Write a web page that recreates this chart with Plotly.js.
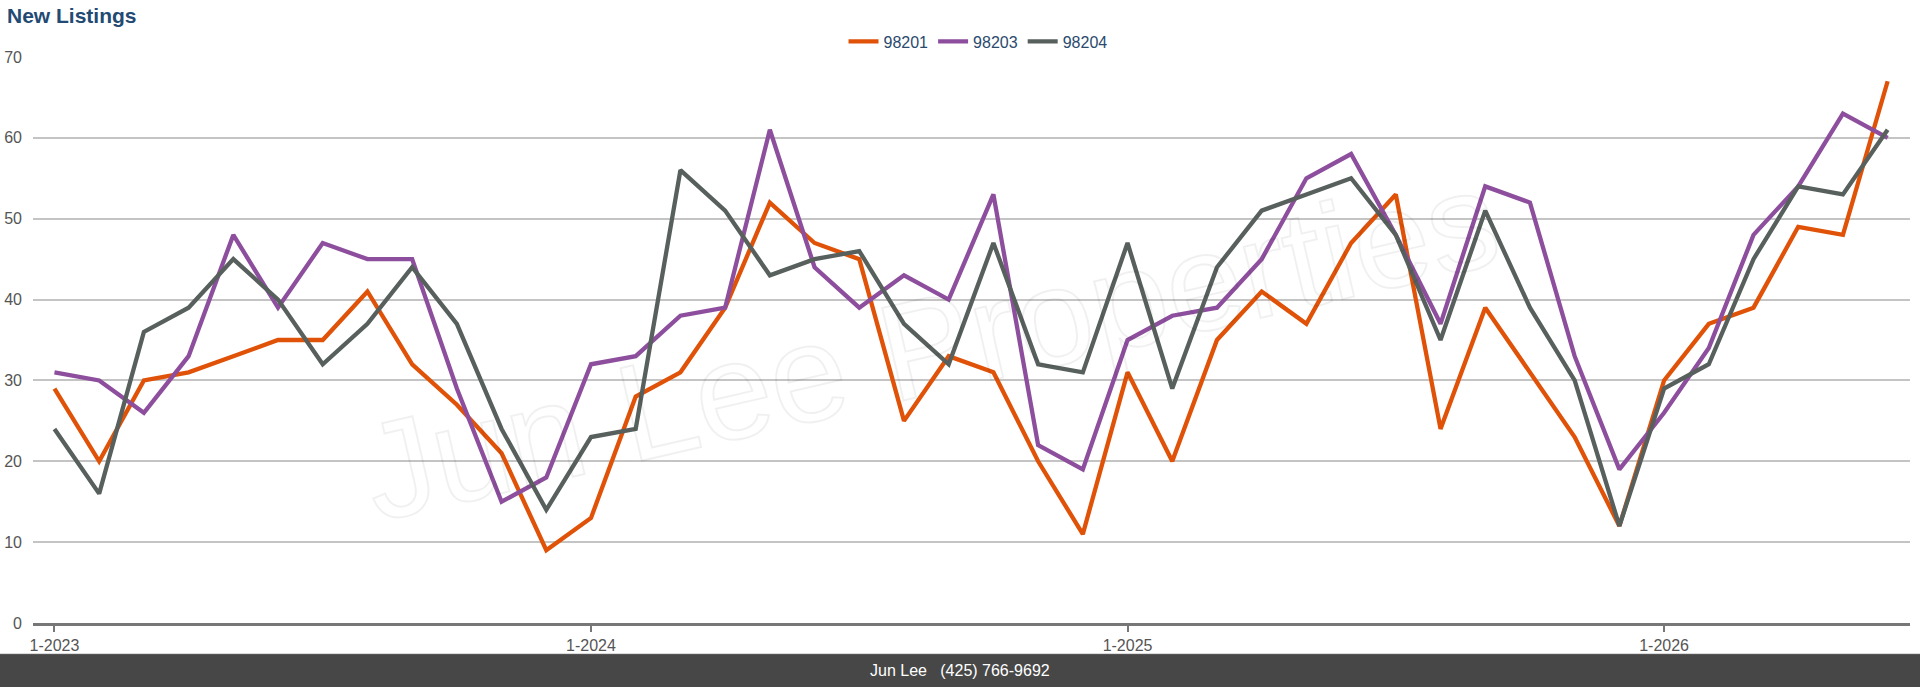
<!DOCTYPE html>
<html>
<head>
<meta charset="utf-8">
<script src="https://cdn.plot.ly/plotly-3.0.1.min.js"></script>
<style>
  html, body { margin: 0; padding: 0; background: #fff; }
  #chart { width: 1920px; height: 687px; }
</style>
</head>
<body>
<div id="chart"></div>
<script>
// Months Jan 2023 .. Jun 2026 (index 0..41)
const months = [
  "1-2023","2-2023","3-2023","4-2023","5-2023","6-2023","7-2023","8-2023","9-2023","10-2023","11-2023","12-2023",
  "1-2024","2-2024","3-2024","4-2024","5-2024","6-2024","7-2024","8-2024","9-2024","10-2024","11-2024","12-2024",
  "1-2025","2-2025","3-2025","4-2025","5-2025","6-2025","7-2025","8-2025","9-2025","10-2025","11-2025","12-2025",
  "1-2026","2-2026","3-2026","4-2026","5-2026","6-2026"
];
const tickLabels = ["1-2023", "1-2024", "1-2025", "1-2026"];

const zip98201 = [29,20,30,31,33,35,35,41,32,27,21,9,
                  13,28,31,39,52,47,45,25,33,31,20,11,
                  31,20,35,41,37,47,53,24,39,31,23,12,
                  30,37,39,49,48,67];
const zip98203 = [31,30,26,33,48,39,47,45,45,29,15,18,
                  32,33,38,39,61,44,39,43,40,53,22,19,
                  35,38,39,45,55,58,48,37,54,52,33,19,
                  26,34,48,54,63,60];
const zip98204 = [24,16,36,39,45,40,32,37,44,37,24,14,
                  23,24,56,51,43,45,46,37,32,47,32,31,
                  47,29,44,51,53,55,48,35,51,39,30,12,
                  29,32,45,54,53,61];

const xIdx = months.map((_, i) => i);
const tickVals = tickLabels.map(t => months.indexOf(t));

const font = "Liberation Sans, Arial, Helvetica, sans-serif";

function series(name, y, color) {
  return {
    type: "scatter", mode: "lines", name: name,
    x: xIdx, y: y, text: months,
    line: { color: color, width: 4.3, shape: "linear" },
    hoverinfo: "text+y+name"
  };
}

const data = [
  series("98201", zip98201, "#df5208"),
  series("98203", zip98203, "#8d4f9d"),
  series("98204", zip98204, "#57605d")
];

// plot area: left 33, right 1910, top 56.5, bottom 622.7
const L = 33, R = 10, T = 56.5, B = 64.3;
const PW = 1920 - L - R, PH = 687 - T - B;
const px = v => (v - L) / PW;          // page x -> paper x
const py = v => (687 - B - v) / PH;    // page y -> paper y

const layout = {
  width: 1920, height: 687,
  margin: { l: L, r: R, t: T, b: B, pad: 0 },
  paper_bgcolor: "#ffffff", plot_bgcolor: "#ffffff",
  showlegend: true,
  legend: {
    orientation: "h", x: px(978), xanchor: "center", y: py(41), yanchor: "middle",
    font: { family: font, size: 16, color: "#2a4a6e" },
    itemwidth: 30, tracegroupgap: 0, bgcolor: "rgba(0,0,0,0)"
  },
  xaxis: {
    range: [-0.48, 41.5],
    tickmode: "array", tickvals: tickVals, ticktext: tickLabels,
    showgrid: false, zeroline: false,
    showline: true, linecolor: "#777777", linewidth: 2.5,
    ticks: "outside", ticklen: 6, tickwidth: 2, tickcolor: "#777777",
    tickfont: { family: font, size: 16, color: "#555555" },
    fixedrange: true
  },
  yaxis: {
    range: [0, 70], tickmode: "linear", tick0: 0, dtick: 10,
    showgrid: true, gridcolor: "#c4c4c4", gridwidth: 1.6,
    zeroline: false, showline: false, ticks: "",
    ticklabelstandoff: 10,
    tickfont: { family: font, size: 16, color: "#555555" },
    fixedrange: true
  },
  shapes: [
    { type: "rect", xref: "paper", yref: "paper",
      x0: px(0), x1: px(1920), y0: py(687), y1: py(653.7),
      fillcolor: "#474747", line: { width: 0 }, layer: "above" },
    { type: "line", xref: "paper", yref: "paper",
      x0: px(0), x1: px(1920), y0: py(654), y1: py(654),
      line: { color: "#5a5a5a", width: 1 }, layer: "above" }
  ],
  annotations: [
    { text: "<b>New Listings</b>", xref: "paper", yref: "paper",
      x: px(5), y: py(15), xanchor: "left", yanchor: "middle", showarrow: false,
      font: { family: font, size: 21, color: "#234a72" } },
    { text: "Jun Lee   (425) 766-9692", xref: "paper", yref: "paper",
      x: px(960), y: py(670.5), xanchor: "center", yanchor: "middle", showarrow: false,
      font: { family: font, size: 16, color: "#ffffff" } },
    { text: "Jun Lee Properties", xref: "paper", yref: "paper",
      x: px(930), y: py(345), xanchor: "center", yanchor: "middle", showarrow: false,
      textangle: -13, name: "watermark",
      font: { family: font, size: 138, color: "rgba(0,0,0,0.03)" } }
  ],
  hovermode: "closest"
};

Plotly.newPlot("chart", data, layout, { displayModeBar: false, responsive: false }).then(gd => {
  // render the watermark as hollow outlined text like the reference
  gd.querySelectorAll(".annotation-text").forEach(t => {
    if (t.textContent === "Jun Lee Properties") {
      t.style.fill = "none";
      t.style.stroke = "rgba(0,0,0,0.06)";
      t.style.strokeWidth = "2px";
    }
  });
});
</script>
</body>
</html>
